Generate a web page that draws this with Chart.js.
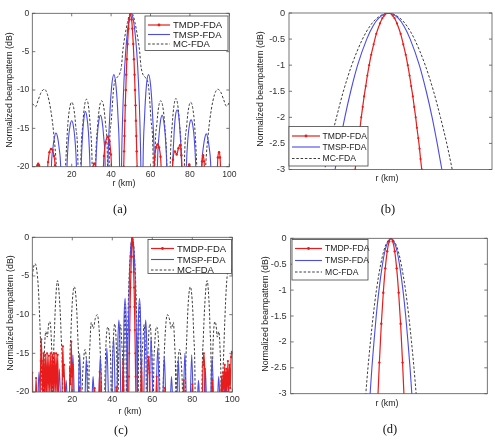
<!DOCTYPE html>
<html><head><meta charset="utf-8">
<script src="https://cdn.jsdelivr.net/npm/chart.js@4/dist/chart.umd.min.js"></script>
<style>
html,body{margin:0;padding:0;background:#fff;}
#wrap{position:relative;width:495px;height:442px;overflow:hidden;background:#fff;}
canvas{position:absolute;left:0;top:0;}
.lbl{position:absolute;font-family:"Liberation Sans",Arial,sans-serif;font-size:8.8px;color:#222;white-space:nowrap;transform:translate(-50%,-50%);}
.yt{transform:translate(-50%,-50%) rotate(-90deg);}
.cap{position:absolute;font-family:"Liberation Serif","Times New Roman",serif;font-size:12.5px;color:#111;transform:translate(-50%,-50%);white-space:nowrap;}
</style></head><body>
<div id="wrap">
<canvas id="cA" width="495" height="442"></canvas>
<canvas id="cB" width="495" height="442"></canvas>
<canvas id="cC" width="495" height="442"></canvas>
<canvas id="cD" width="495" height="442"></canvas>
<div class="lbl yt" style="left:9px;top:90px;">Normalized beampattern (dB)</div>
<div class="lbl yt" style="left:260px;top:89px;">Normalized beampattern (dB)</div>
<div class="lbl yt" style="left:10px;top:313px;">Normalized beampattern (dB)</div>
<div class="lbl yt" style="left:265px;top:314px;">Normalized beampattern (dB)</div>
<div class="lbl" style="left:124px;top:183px;">r (km)</div>
<div class="lbl" style="left:387px;top:178px;">r (km)</div>
<div class="lbl" style="left:130px;top:410.5px;">r (km)</div>
<div class="lbl" style="left:387px;top:402.5px;">r (km)</div>
<div class="cap" style="left:120px;top:209px;">(a)</div>
<div class="cap" style="left:388px;top:209px;">(b)</div>
<div class="cap" style="left:121px;top:430px;">(c)</div>
<div class="cap" style="left:390px;top:429px;">(d)</div>
</div>
<script>
const seriesNames = ['TMDP-FDA','TMSP-FDA','MC-FDA'];
const rTicks = [20,40,60,80,100];
const dbTicksWide = [0,-5,-10,-15,-20];
const dbTicksZoom = [0,-0.5,-1,-1.5,-2,-2.5,-3];

// ---- panel (a) ----
const a_MC = [[0,-11.8],[1,-12],[1.6,-12.2],[3,-11.3],[4.5,-10.3],[6.1,-9.9],[7.7,-10.6],[9.3,-12.5],[10.8,-15.5],[12.2,-20],[14.5,-35],
[16.9,-20],[18,-14.6],[19,-12.3],[20,-11.6],[21,-12.3],[22,-14.6],[23.2,-20],[23.9,-35],
[24.6,-20],[25.7,-14.3],[26.6,-11.9],[27.5,-11.2],[28.4,-11.9],[29.3,-14.3],[30.4,-20],[31.2,-35],
[32.1,-20],[33.2,-14.5],[34.2,-12.1],[35.2,-11.4],[36.2,-12.1],[37.2,-14.5],[38.2,-20],[38.6,-35],
[39,-20],[40.1,-14],[41.4,-9.5],[42.9,-8.4],[44.2,-8],[45.3,-6.8],[45.9,-5],[47,-3],[48.3,-1.2],[49.3,-0.2],[50.2,0],[51.1,-0.2],[52.1,-1.2],[53.4,-3],[54.5,-5],[55.1,-6.8],[56.2,-8],[57.5,-8.4],[59,-9.5],[60.3,-14],[61.4,-20],[61.8,-35],
[62.2,-20],[63.2,-14.5],[64.2,-12.1],[65.2,-11.4],[66.2,-12.1],[67.2,-14.5],[68.3,-20],[69.2,-35],
[70,-20],[71.1,-14.3],[72,-11.9],[72.9,-11.1],[73.8,-11.9],[74.7,-14.3],[75.8,-20],[76.5,-35],
[77.2,-20],[78.4,-14.6],[79.4,-12.3],[80.4,-11.6],[81.4,-12.3],[82.4,-14.6],[83.5,-20],[85.8,-35],
[88,-20],[89.4,-15.5],[90.9,-12.5],[92.5,-10.6],[94.1,-9.9],[95.7,-10.3],[97.2,-11.3],[98.5,-12.1],[99.2,-12],[100,-11.6]];
const a_TMSP = [[8.5,-35],[9.7,-20],[10.5,-17.5],[11.3,-16.1],[12,-15.6],[12.8,-16.1],[13.6,-17.5],[14.4,-20],[15.8,-35],
[17.6,-20],[18.4,-16.3],[19.2,-14.6],[20,-14],[20.8,-14.6],[21.6,-16.3],[22.4,-20],[23.6,-35],
[24.8,-20],[25.6,-15.5],[26.3,-13.5],[27,-12.8],[27.7,-13.5],[28.5,-15.5],[29.3,-20],[30.8,-35],
[32.2,-20],[33,-16],[33.8,-14],[34.6,-13.3],[35.4,-14],[36.2,-16],[37,-20],[37.7,-35],
[38.4,-20],[39.3,-13.5],[40.3,-9.5],[41.4,-8],[42.5,-9.5],[43.5,-13.5],[44.3,-20],[44.8,-35],
[45.3,-20],[45.8,-14],[46.5,-9],[47.4,-5],[48.4,-2.2],[49.4,-0.5],[50.2,0],[51,-0.5],[52,-2.2],[53,-5],[53.9,-9],[54.6,-14],[55.1,-20],[55.7,-35],
[56.2,-20],[57,-13.5],[57.9,-9.5],[59,-8],[60.1,-9.5],[61.1,-13.5],[62,-20],[62.7,-35],
[63.5,-20],[64.3,-16],[65.1,-14],[65.9,-13.3],[66.7,-14],[67.5,-16],[68.3,-20],[69.7,-35],
[71.2,-20],[72,-15.5],[72.7,-13.3],[73.5,-12.6],[74.3,-13.3],[75,-15.5],[75.8,-20],[76.8,-35],
[78.2,-20],[79,-16.3],[79.8,-14.5],[80.6,-13.9],[81.4,-14.5],[82.2,-16.3],[83,-20],[84.6,-35],
[86,-20],[86.8,-17.5],[87.6,-16.2],[88.3,-15.7],[89,-16.2],[89.8,-17.5],[90.6,-20],[92,-35]];
const a_TMDP = [[1.5,-21.5],[2.2,-20.3],[2.6,-19.8],[3,-19.6],[3.4,-19.8],[3.8,-20.3],[4.3,-21.5],
[7.4,-21.5],[8,-19.4],[8.7,-18.1],[9.5,-17.7],[10.3,-17.8],[11,-18.6],[11.6,-19.8],[12.1,-21.5],
[30.4,-21.5],[30.9,-20],[31.3,-19.6],[31.7,-19.6],[32.1,-20],[32.6,-21.5],
[35.7,-21.5],[36.4,-18.6],[37.2,-16.8],[38.2,-16.1],[39.2,-16.7],[39.9,-18.4],[40.6,-21.5],
[46,-21.5],[46.4,-20],[46.6,-18],[46.8,-16],[47,-14],[47.2,-12],[47.45,-10],[47.7,-8],[48,-6],[48.35,-4],[48.8,-2],[49.2,-0.8],[49.8,0],[50.4,-0.8],[50.8,-2],[51.25,-4],[51.6,-6],[51.9,-8],[52.15,-10],[52.4,-12],[52.6,-14],[52.8,-16],[53,-18],[53.2,-20],[53.5,-21.5],
[61.5,-21.5],[62.1,-18.8],[62.8,-17.5],[63.6,-17.1],[64.4,-17.5],[65.1,-18.7],[65.8,-21.5],
[70.8,-21.5],[71.4,-19.1],[72.4,-18],[73.3,-18.4],[74.2,-17.6],[75,-17.2],[75.7,-18.5],[76.3,-21.5],
[78.9,-21.5],[79.3,-20],[79.6,-19.7],[79.9,-20],[80.3,-21.5],
[85.7,-21.5],[86.2,-19.3],[86.7,-18.5],[87.2,-19.3],[87.6,-21.5],
[93.7,-21.5],[94.2,-18.8],[94.8,-18.1],[95.3,-18.8],[95.8,-21.5]];

// ---- panel (b) ----
const b_MC = [[46.66,-3.2],[46.76,-3],[47.03,-2.5],[47.34,-2],[47.68,-1.5],[48.09,-1],[48.62,-0.5],[48.99,-0.25],[49.33,-0.1],[49.9,0],[50.47,-0.1],[50.81,-0.25],[51.18,-0.5],[51.71,-1],[52.12,-1.5],[52.46,-2],[52.77,-2.5],[53.04,-3],[53.14,-3.2]];
const b_TMSP = [[47.18,-3.2],[47.27,-3],[47.5,-2.5],[47.75,-2],[48.04,-1.5],[48.38,-1],[48.83,-0.5],[49.14,-0.25],[49.42,-0.1],[49.9,0],[50.38,-0.1],[50.66,-0.25],[50.97,-0.5],[51.42,-1],[51.76,-1.5],[52.05,-2],[52.3,-2.5],[52.53,-3],[52.62,-3.2]];
const b_TMDP = [[48.21,-3.2],[48.26,-3],[48.32,-2.8],[48.37,-2.6],[48.43,-2.4],[48.5,-2.2],[48.56,-2],[48.63,-1.8],[48.7,-1.6],[48.78,-1.4],[48.86,-1.2],[48.95,-1],[49.05,-0.8],[49.17,-0.6],[49.3,-0.4],[49.48,-0.2],[49.6,-0.1],[49.69,-0.05],[49.9,0],[50.11,-0.05],[50.2,-0.1],[50.32,-0.2],[50.5,-0.4],[50.63,-0.6],[50.75,-0.8],[50.85,-1],[50.94,-1.2],[51.02,-1.4],[51.1,-1.6],[51.17,-1.8],[51.24,-2],[51.3,-2.2],[51.37,-2.4],[51.43,-2.6],[51.48,-2.8],[51.54,-3],[51.59,-3.2]];

// ---- panel (c) ----
const c_MC = [[0,-5],[0.6,-3.9],[1.4,-3.4],[2.2,-4.2],[3,-6.5],[3.7,-10.5],[4.3,-15],[4.8,-20],[5.2,-35],
[5.6,-20],[6.1,-14.5],[6.8,-12.2],[7.5,-12.9],[8.1,-11.4],[8.7,-10.9],[9.3,-12],[9.8,-15.5],[10.1,-20],[10.3,-35],
[10.5,-20],[11.1,-12],[11.8,-7.6],[12.6,-5.6],[13.5,-7.6],[14.4,-12.5],[15.2,-20],[15.6,-35],
[18.3,-35],[18.6,-20],[19.3,-12.5],[20.1,-8],[21,-6.4],[21.9,-8],[22.7,-12.5],[23.5,-20],[24,-35],
[24.9,-20],[25.6,-16],[26.4,-14.5],[27.2,-16],[27.9,-20],[28.1,-35],
[28.3,-20],[28.8,-14],[29.5,-11],[30.5,-11.8],[31.5,-10.5],[32.5,-10],[33.3,-11.5],[34,-15],[34.6,-20],[35.2,-35],
[36.2,-20],[36.8,-14],[37.8,-11.6],[38.8,-14],[39.4,-20],[39.7,-35],
[39.9,-20],[40.4,-14],[41.2,-11.2],[42,-14],[42.5,-20],[42.8,-35],
[43,-20],[43.5,-14],[44.1,-11.3],[44.8,-14],[45.4,-20],[45.6,-35],
[45.75,-20],[46,-12],[46.35,-8.6],[46.7,-12],[47,-20],[47.15,-35],
[47.3,-20],[47.7,-12],[48.3,-6],[48.8,-3],[49.4,-0.8],[50,0],[50.6,-0.8],[51.2,-3],[51.7,-6],[52.3,-12],[52.7,-20],[52.85,-35],
[53,-20],[53.3,-12],[53.65,-8.6],[54,-12],[54.25,-20],[54.4,-35],
[54.6,-20],[55.2,-14],[55.9,-11.3],[56.5,-14],[57,-20],[57.2,-35],
[57.5,-20],[58,-14],[58.8,-11.2],[59.6,-14],[60.1,-20],[60.3,-35],
[60.6,-20],[61.2,-14],[62.2,-11.6],[63.2,-14],[63.8,-20],[64.8,-35],
[65.4,-20],[66,-15],[66.7,-11.5],[67.5,-10],[68.5,-10.5],[69.5,-11.8],[70.5,-11],[71.2,-14],[71.7,-20],[71.9,-35],
[72.1,-20],[72.8,-16],[73.6,-14.5],[74.4,-16],[75.1,-20],[76,-35],
[76.5,-20],[77.3,-12.5],[78.1,-8],[79,-6.4],[79.9,-8],[80.7,-12.5],[81.4,-20],[81.7,-35],
[84.4,-35],[84.8,-20],[85.6,-12.5],[86.5,-7.6],[87.4,-5.6],[88.2,-7.6],[88.9,-12],[89.5,-20],[89.7,-35],
[89.9,-20],[90.2,-15.5],[90.7,-12],[91.3,-10.9],[91.9,-11.4],[92.5,-12.9],[93.2,-12.2],[93.9,-14.5],[94.4,-20],[94.8,-35],
[95.2,-20],[95.7,-15],[96.3,-10.5],[97,-6.5],[97.8,-4.2],[98.6,-3.4],[99.4,-3.9],[100,-5]];
const c_TMSP = [[2,-35],[2.95,-20],[3.4,-17.4],[3.85,-20],[5.1,-35],
[6.4,-20],[6.8,-18],[7.2,-20],[8.4,-35],
[9.5,-20],[10.1,-15.5],[10.7,-20],[11.8,-35],
[13.05,-20],[13.5,-17],[13.95,-20],[15.2,-35],
[16.55,-20],[16.9,-18.5],[17.25,-20],[18.6,-35],
[19.7,-20],[20.3,-15.2],[20.9,-20],[22,-35],
[23.1,-20],[23.7,-15],[24.3,-20],[25.35,-35],
[26.45,-20],[27,-15.7],[27.55,-20],[28.7,-35],
[30,-20],[30.4,-18],[30.8,-20],[32.2,-35],
[33.4,-20],[34,-15.4],[34.6,-20],[35.65,-35],
[36.6,-20],[37.3,-14.3],[38,-20],[38.95,-35],
[39.85,-20],[40.6,-12.9],[41.35,-20],[41.95,-35],
[42.4,-20],[42.8,-13.5],[43.3,-10.7],[43.8,-13.5],[44.2,-20],[44.85,-35],
[45.4,-20],[45.8,-11.5],[46.4,-7.9],[47,-11.5],[47.4,-20],[47.55,-35],
[47.65,-20],[48,-12],[48.6,-5],[49.3,-1.2],[50,0],[50.7,-1.2],[51.4,-5],[52,-12],[52.35,-20],[52.45,-35],
[52.6,-20],[53,-11.5],[53.6,-7.9],[54.2,-11.5],[54.6,-20],[55.15,-35],
[55.8,-20],[56.2,-13.5],[56.7,-10.7],[57.2,-13.5],[57.6,-20],[58.05,-35],
[58.65,-20],[59.4,-12.9],[60.15,-20],[61.05,-35],
[62,-20],[62.7,-14.3],[63.4,-20],[64.35,-35],
[65.4,-20],[66,-15.4],[66.6,-20],[67.8,-35],
[69.2,-20],[69.6,-18],[70,-20],[71.3,-35],
[72.45,-20],[73,-15.7],[73.55,-20],[74.65,-35],
[75.7,-20],[76.3,-15],[76.9,-20],[78,-35],
[79.1,-20],[79.7,-15.2],[80.3,-20],[81.4,-35],
[82.75,-20],[83.1,-18.5],[83.45,-20],[84.8,-35],
[86.05,-20],[86.5,-17],[86.95,-20],[88.2,-35],
[89.3,-20],[89.9,-15.5],[90.5,-20],[91.6,-35],
[92.8,-20],[93.2,-18],[93.6,-20],[94.9,-35],
[96.15,-20],[96.6,-17.4],[97.05,-20],[98,-35]];
const c_TMDP = [[0,-17.5],[0.4,-21.5],[1.5,-21.5],[1.9,-18.2],[2.3,-21.5],
[3.8,-21.5],[4.2,-16],[4.5,-13.2],[4.8,-16],[5.2,-20.5],[5.6,-15],[6.05,-20.5],[6.5,-15.2],[6.95,-20.5],[7.4,-15],[7.85,-20.5],[8.3,-15.3],[8.75,-20.5],[9.2,-15],[9.65,-20.5],[10.1,-15.2],[10.55,-20.5],[11,-15],[11.45,-20.5],[11.9,-15],[12.35,-20.5],[12.7,-15.2],[13.1,-21.5],
[14.8,-21.5],[15.1,-16],[15.3,-14.1],[15.6,-18],[15.9,-16.5],[16.3,-21.5],
[18.5,-21.5],[18.8,-17],[19.1,-19],[19.5,-13.5],[19.8,-18],[20.1,-16.5],[20.5,-21.5],
[23.4,-21.5],[23.7,-19.5],[24,-21.5],
[30.9,-21.5],[31.2,-19.5],[31.5,-21.5],
[33.2,-21.5],[33.7,-17.4],[34.2,-21.5],
[41.7,-21.5],[42,-19.4],[42.3,-21.5],
[44.9,-21.5],[45.4,-16.1],[45.9,-21.5],
[48.1,-21.5],[48.35,-18],[48.5,-15],[48.7,-12],[48.9,-9],[49.1,-6.5],[49.3,-4.5],[49.5,-2.5],[49.7,-1],[50,0],[50.3,-1],[50.5,-2.5],[50.7,-4.5],[50.9,-6.5],[51.1,-9],[51.3,-12],[51.5,-15],[51.65,-18],[51.9,-21.5],
[54.1,-21.5],[54.6,-16.1],[55.1,-21.5],
[57.4,-21.5],[57.8,-17],[58.2,-15.5],[58.6,-17.5],[59,-21.5],
[61.8,-21.5],[62.2,-18],[62.6,-21.5],
[66,-21.5],[66.3,-19.5],[66.6,-21.5],
[75.3,-21.5],[75.7,-18.5],[76.1,-21.5],
[79.6,-21.5],[80,-19],[80.4,-21.5],
[84.9,-21.5],[85.4,-16.5],[85.8,-15],[86.2,-17],[86.6,-21.5],
[89.5,-21.5],[90,-18.5],[90.5,-21.5],
[94.2,-21.5],[94.6,-18],[95,-20.5],[95.4,-17.5],[95.8,-20],[96.2,-16.5],[96.6,-20.5],[97,-17],[97.4,-20],[97.8,-16],[98.2,-20.5],[98.6,-16.5],[99,-19.5],[99.4,-15.5],[99.8,-14.8],[100,-15]];

// ---- panel (d) ----
const d_MC = [[48.78,-3.2],[48.82,-3],[48.93,-2.5],[49.055,-2],[49.195,-1.5],[49.36,-1],[49.58,-0.5],[49.73,-0.25],[49.87,-0.1],[50.1,0],[50.33,-0.1],[50.47,-0.25],[50.62,-0.5],[50.84,-1],[51.005,-1.5],[51.145,-2],[51.27,-2.5],[51.38,-3],[51.42,-3.2]];
const d_TMSP = [[49.005,-3.2],[49.04,-3],[49.13,-2.5],[49.235,-2],[49.35,-1.5],[49.49,-1],[49.67,-0.5],[49.79,-0.25],[49.91,-0.1],[50.1,0],[50.29,-0.1],[50.41,-0.25],[50.53,-0.5],[50.71,-1],[50.85,-1.5],[50.965,-2],[51.07,-2.5],[51.16,-3],[51.195,-3.2]];
const d_TMDP = [[49.41,-3.28],[49.51,-2.4],[49.61,-1.65],[49.71,-1.05],[49.81,-0.58],[49.91,-0.25],[50.01,-0.06],[50.1,0],[50.19,-0.06],[50.29,-0.25],[50.39,-0.58],[50.49,-1.05],[50.59,-1.65],[50.69,-2.4],[50.79,-3.28]];

const FONT = '"Liberation Sans", Arial, sans-serif';
const RED = 'rgb(232,28,28)', BLUE = 'rgb(75,75,230)', GREY = 'rgb(60,60,60)';

function toXY(arr){ return arr.map(p => ({x:p[0], y:p[1]})); }
function sets(tmdp, tmsp, mc, rr){
  return [
    {label:seriesNames[0], data:toXY(tmdp), borderColor:RED, borderWidth:1.2, pointRadius:rr, pointBackgroundColor:RED, pointBorderWidth:0, pointHoverRadius:0, cubicInterpolationMode:'monotone', fill:false},
    {label:seriesNames[1], data:toXY(tmsp), borderColor:BLUE, borderWidth:1.1, pointRadius:0, cubicInterpolationMode:'monotone', fill:false},
    {label:seriesNames[2], data:toXY(mc), borderColor:GREY, borderWidth:1, borderDash:[2.5,1.8], pointRadius:0, cubicInterpolationMode:'monotone', fill:false}
  ];
}

function framePlugin(cfg){
  return {
    id:'frame'+cfg.id,
    afterDraw(chart){
      const ctx = chart.ctx, a = chart.chartArea;
      ctx.save();
      ctx.setLineDash([]);
      ctx.strokeStyle = '#555'; ctx.lineWidth = 0.8;
      ctx.strokeRect(a.left, a.top, a.right-a.left, a.bottom-a.top);
      const ys = chart.scales.y, xs = chart.scales.x;
      ctx.beginPath();
      cfg.yTicks.forEach(v => { const p = ys.getPixelForValue(v); ctx.moveTo(a.left,p); ctx.lineTo(a.left+3,p); ctx.moveTo(a.right,p); ctx.lineTo(a.right-3,p); });
      cfg.xTicks.forEach(v => { const p = xs.getPixelForValue(v); ctx.moveTo(p,a.bottom); ctx.lineTo(p,a.bottom-3); ctx.moveTo(p,a.top); ctx.lineTo(p,a.top+3); });
      ctx.stroke();
      const L = cfg.leg;
      ctx.fillStyle = '#fff';
      ctx.fillRect(L.x0, L.y0, L.x1-L.x0, L.y1-L.y0);
      ctx.strokeStyle = '#444'; ctx.lineWidth = 0.8;
      ctx.strokeRect(L.x0, L.y0, L.x1-L.x0, L.y1-L.y0);
      const styles = [[RED,[],1.2],[BLUE,[],1.1],[GREY,[2.5,1.8],1]];
      ctx.font = L.fs + 'px ' + FONT;
      ctx.textBaseline = 'middle';
      seriesNames.forEach((n,i) => {
        const y = L.rows[i];
        ctx.strokeStyle = styles[i][0]; ctx.lineWidth = styles[i][2]; ctx.setLineDash(styles[i][1]);
        ctx.beginPath(); ctx.moveTo(L.lx0,y); ctx.lineTo(L.lx1,y); ctx.stroke();
        ctx.setLineDash([]);
        if(i===0){ ctx.fillStyle = RED; ctx.beginPath(); ctx.arc((L.lx0+L.lx1)/2, y, 1.4, 0, Math.PI*2); ctx.fill(); }
        ctx.fillStyle = '#222';
        ctx.fillText(n, L.tx, y+0.5);
      });
      ctx.restore();
    }
  };
}

function build(cfg){
  const yW = 30, xH = 14, b = cfg.box;
  new Chart(document.getElementById(cfg.id), {
    type:'line',
    data:{datasets:cfg.sets},
    options:{
      responsive:false, animation:false, devicePixelRatio:1,
      events:[],
      layout:{padding:{left:b.l-yW, top:b.t, right:495-b.r, bottom:442-b.b-xH}},
      plugins:{legend:{display:false}, tooltip:{enabled:false}},
      scales:{
        x:{type:'linear', min:cfg.xMin, max:cfg.xMax,
           afterBuildTicks:s => { s.ticks = cfg.xTicks.map(v => ({value:v})); },
           afterFit:s => { s.height = xH; },
           ticks:{display:cfg.xTicks.length>0, autoSkip:false, maxRotation:0, padding:cfg.xPad, color:'#333', font:{family:FONT, size:cfg.tfs}, callback:v => String(v)},
           grid:{display:false, drawTicks:false}, border:{display:false}},
        y:{type:'linear', min:cfg.yMin, max:0,
           afterBuildTicks:s => { s.ticks = cfg.yTicks.map(v => ({value:v})); },
           afterFit:s => { s.width = yW; },
           ticks:{autoSkip:false, padding:cfg.yPad, color:'#333', font:{family:FONT, size:cfg.tfs}, callback:v => String(v)},
           grid:{display:false, drawTicks:false}, border:{display:false}}
      }
    },
    plugins:[framePlugin(cfg)]
  });
}

build({id:'cA', box:{l:32.3,t:13.3,r:229.3,b:166.7}, xMin:0, xMax:100, yMin:-20, xTicks:rTicks, yTicks:dbTicksWide, tfs:8.6, xPad:2.5, yPad:3,
  sets:sets(a_TMDP,a_TMSP,a_MC,1.2),
  leg:{x0:145,y0:16,x1:228,y1:50.5,lx0:148,lx1:170,tx:173,rows:[25,34.5,44],fs:9.5}});
build({id:'cB', box:{l:289,t:13,r:492,b:169.5}, xMin:45, xMax:55, yMin:-3, xTicks:[], yTicks:dbTicksZoom, tfs:9.2, xPad:2, yPad:4,
  sets:sets(b_TMDP,b_TMSP,b_MC,1.1),
  leg:{x0:289,y0:126.5,x1:368,y1:166,lx0:292,lx1:320,tx:322.5,rows:[136,147,158.5],fs:8.6}});
build({id:'cC', box:{l:32.3,t:237.3,r:232.3,b:392}, xMin:0, xMax:100, yMin:-20, xTicks:rTicks, yTicks:dbTicksWide, tfs:9, xPad:2, yPad:3,
  sets:sets(c_TMDP,c_TMSP,c_MC,1.1),
  leg:{x0:148,y0:239.5,x1:231.5,y1:273.5,lx0:151,lx1:174,tx:177,rows:[248.5,259.5,270],fs:9.5}});
build({id:'cD', box:{l:290.7,t:238.3,r:487.3,b:393.7}, xMin:45, xMax:55, yMin:-3, xTicks:[], yTicks:dbTicksZoom, tfs:9.2, xPad:2, yPad:4,
  sets:sets(d_TMDP,d_TMSP,d_MC,1.2),
  leg:{x0:292,y0:239.5,x1:368,y1:280,lx0:295,lx1:322,tx:325,rows:[248.5,260.5,272],fs:8.6}});
</script>
</body></html>
